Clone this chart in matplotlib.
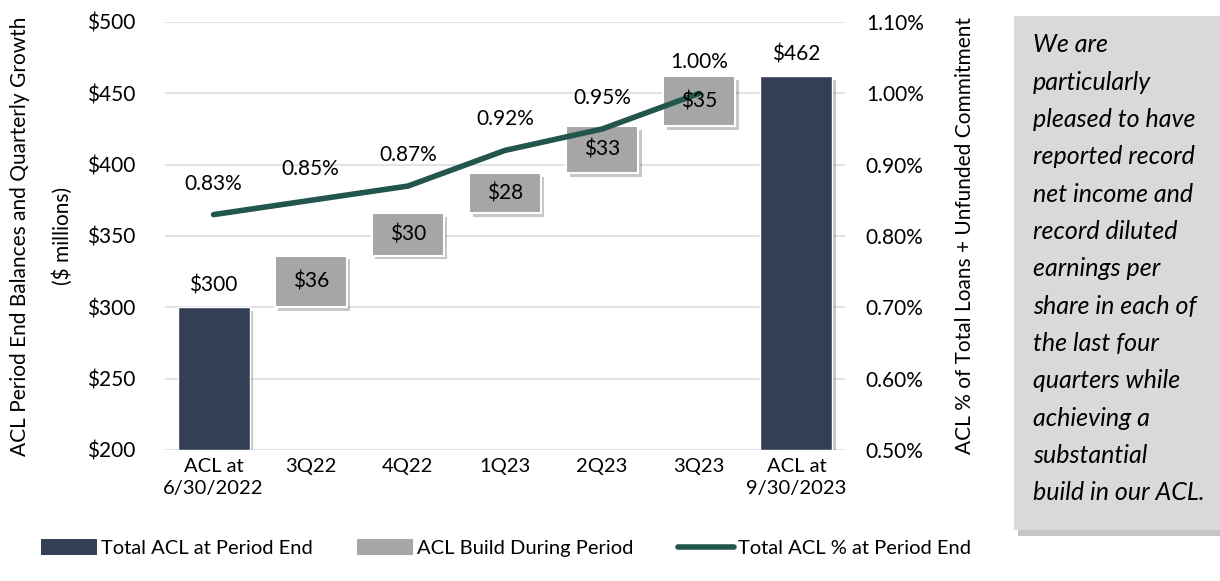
import matplotlib
matplotlib.use("Agg")
import matplotlib.pyplot as plt
import matplotlib.patheffects as pe
from matplotlib.patches import Patch, Rectangle
from matplotlib.lines import Line2D

plt.rcParams['font.family'] = ['Lato', 'DejaVu Sans']

# Datos
categories = ["ACL at\n6/30/2022", "3Q22", "4Q22", "1Q23", "2Q23", "3Q23", "ACL at\n9/30/2023"]
start_balance = 300
builds = [36, 30, 28, 33, 35]
end_balance = 462
pct_values = [0.83, 0.85, 0.87, 0.92, 0.95, 1.00]
left_ticks = [200, 250, 300, 350, 400, 450, 500]
right_ticks = [0.5, 0.6, 0.7, 0.8, 0.9, 1.0, 1.1]
note_lines = ["We are", "particularly", "pleased to have", "reported record",
              "net income and", "record diluted", "earnings per", "share in each of",
              "the last four", "quarters while", "achieving a", "substantial",
              "build in our ACL."]

dark = "#333F55"
gray = "#A6A6A6"
line_col = "#22554C"
W, H = 1220, 581
fs = 15

fig = plt.figure(figsize=(12.2, 5.81), dpi=100)
ax = fig.add_axes([165 / W, 1 - 450 / H, (845 - 165) / W, (450 - 22) / H])
ax2 = ax.twinx()

x = list(range(len(categories)))
w = 0.74
shadow = [pe.SimplePatchShadow(offset=(2.5, -2.5), shadow_rgbFace="#000000", alpha=0.22), pe.Normal()]

# Barras de saldo inicial y final
for xi, val in [(0, start_balance), (6, end_balance)]:
    ax.bar(xi, val - 200, bottom=200, width=w, color=dark, edgecolor="white", linewidth=1,
           zorder=3, path_effects=shadow)
    ax.text(xi, val + 15.5, f"${val}", ha="center", va="center", fontsize=fs, zorder=6)

# Barras flotantes (cascada)
base = start_balance
for i, b in enumerate(builds):
    ax.bar(i + 1, b, bottom=base, width=w, color=gray, edgecolor="white", linewidth=1.5,
           zorder=3, path_effects=shadow)
    ax.text(i + 1, base + b / 2, f"${b}", ha="center", va="center", fontsize=fs, zorder=6)
    base += b

ax.set_ylim(200, 500)
ax.set_xlim(-0.5, 6.5)
ax.set_yticks(left_ticks)
ax.set_yticklabels([f"${v}" for v in left_ticks], fontsize=fs)
ax.set_xticks(x)
ax.set_xticklabels(categories, fontsize=14.5, linespacing=1.35)
ax.tick_params(axis="y", length=0, pad=21)
ax.tick_params(axis="x", length=0, pad=6)
ax.grid(axis="y", color="#DCDCE6", linewidth=1.2, zorder=0)
ax.set_axisbelow(True)
for s in ax.spines.values():
    s.set_visible(False)

# Línea de porcentaje (eje derecho)
ax2.set_ylim(0.5, 1.1)
ax2.set_yticks(right_ticks)
ax2.set_yticklabels([f"{v:.2f}%" for v in right_ticks], fontsize=fs)
ax2.tick_params(axis="y", length=0, pad=15)
for s in ax2.spines.values():
    s.set_visible(False)
ax.set_zorder(ax2.get_zorder() + 1)
ax.patch.set_visible(False)
ax.plot(x[:6], pct_values, color=line_col, linewidth=4, solid_capstyle="round", zorder=5,
        transform=ax2.transData)
for xi, p in zip(x[:6], pct_values):
    ax.text(xi, p + 0.0435, f"{p:.2f}%", ha="center", va="center", fontsize=fs, zorder=6,
            transform=ax2.transData)

# Títulos de los ejes
fig.text(20 / W, 1 - 236 / H, "ACL Period End Balances and Quarterly Growth", rotation=90,
         ha="center", va="center", fontsize=fs)
fig.text(63 / W, 1 - 236 / H, "($ millions)", rotation=90, ha="center", va="center", fontsize=fs)
fig.text(965 / W, 1 - 236 / H, "ACL % of Total Loans + Unfunded Commitment", rotation=90,
         ha="center", va="center", fontsize=fs)

# Cuadro de texto a la derecha
box = Rectangle((1014 / W, 1 - 530 / H), (W - 1014) / W, (530 - 16) / H,
                transform=fig.transFigure, facecolor="#D9D9D9", edgecolor="none",
                path_effects=[pe.SimplePatchShadow(offset=(3, -4), alpha=0.3), pe.Normal()])
fig.patches.append(box)
for i, line in enumerate(note_lines):
    fig.text(1033 / W, 1 - (45 + 37.3 * i) / H, line, ha="left", va="center", fontsize=18,
             style="italic")

# Leyenda
handles = [Patch(facecolor=dark, label="Total ACL at Period End"),
           Patch(facecolor=gray, label="ACL Build During Period"),
           Line2D([0], [0], color=line_col, linewidth=4, solid_capstyle="round",
                  label="Total ACL % at Period End")]
fig.legend(handles=handles, loc="center", bbox_to_anchor=(506 / W, 1 - 548 / H), ncol=3,
           frameon=False, fontsize=14.5, handlelength=2.8, handleheight=0.8, columnspacing=2.2,
           handletextpad=0.2)

fig.savefig("out.png", dpi=100)
